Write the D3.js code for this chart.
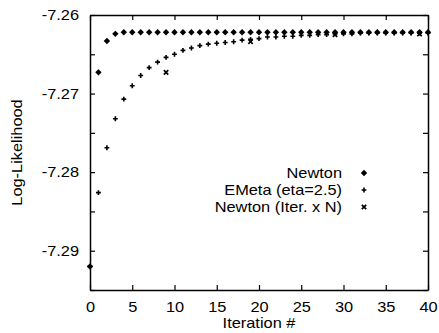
<!DOCTYPE html>
<html>
<head>
<meta charset="utf-8">
<script src="https://cdn.jsdelivr.net/npm/d3@7"></script>
<style>
html,body{margin:0;padding:0;background:#fff;}
svg{display:block;font-family:"Liberation Sans",Arial,Helvetica,sans-serif;}
</style>
</head>
<body>
<svg id="chart" width="439" height="333"></svg>
<script>
// ---- data ----
const iterations = d3.range(0, 41);
const newtonValues = [-7.2920, -7.2673, -7.2633, -7.2624, -7.2622,
  -7.2622, -7.2622, -7.2622, -7.2622, -7.2622, -7.2622, -7.2622, -7.2622, -7.2622, -7.2622,
  -7.2622, -7.2622, -7.2622, -7.2622, -7.2622, -7.2622, -7.2622, -7.2622, -7.2622, -7.2622,
  -7.2622, -7.2622, -7.2622, -7.2622, -7.2622, -7.2622, -7.2622, -7.2622, -7.2622, -7.2622,
  -7.2622, -7.2622, -7.2622, -7.2622, -7.2622, -7.2622];
const emetaValues = [-7.2920, -7.2826, -7.2769, -7.2732, -7.2707, -7.2690, -7.2677, -7.2667,
  -7.2660, -7.2654, -7.2650, -7.2645, -7.2642, -7.2639, -7.2637, -7.2636, -7.2635, -7.2634,
  -7.2632, -7.2631, -7.2630, -7.2628, -7.2628, -7.2627, -7.2627, -7.2626, -7.2626, -7.2625,
  -7.2625, -7.2624, -7.2624, -7.2624, -7.2623, -7.2623, -7.2623, -7.2623, -7.2623, -7.2623,
  -7.2623, -7.2623, -7.2623];
const iterNX = [9, 19, 29, 39];
const iterNValues = [-7.2673, -7.2634, -7.2625, -7.2624];
const seriesNames = ["Newton", "EMeta (eta=2.5)", "Newton (Iter. x N)"];
const xTicks = [0, 5, 10, 15, 20, 25, 30, 35, 40];
const yTicks = [-7.295, -7.29, -7.285, -7.28, -7.275, -7.27, -7.265, -7.26];
const yLabelTicks = [-7.29, -7.28, -7.27, -7.26];
const xTitle = "Iteration #";
const yTitle = "Log-Likelihood";

// ---- layout ----
const svg = d3.select("#chart");
const L = 90, R = 428, T = 15, B = 290;
const x = d3.scaleLinear().domain([0, 40]).range([L, R]);
const y = d3.scaleLinear().domain([-7.295, -7.26]).range([B, T]);
const fs = 14;
const K = 1.17; // horizontal stretch of the lettering in the reference

function stretch(sel) {
  sel.each(function () {
    const t = d3.select(this);
    const x0 = +(t.attr("x") || 0);
    const prev = t.attr("transform") || "";
    t.attr("transform", `${prev} translate(${x0},0) scale(${K},1) translate(${-x0},0)`);
  });
}

function styleAxis(g) {
  g.selectAll("path.domain").attr("stroke", "#000").attr("stroke-width", 1.5);
  g.selectAll(".tick line").attr("stroke", "#000").attr("stroke-width", 1.2);
  g.selectAll("text").attr("font-size", fs).attr("fill", "#000")
    .attr("font-family", "Liberation Sans, Arial, sans-serif").call(stretch);
}
const isLabel = v => yLabelTicks.some(t => Math.abs(t - v) < 1e-9);

svg.append("g").attr("transform", `translate(0,${B})`)
  .call(d3.axisBottom(x).tickValues(xTicks).tickSize(-5).tickSizeOuter(0).tickPadding(12).tickFormat(d3.format("d")))
  .call(styleAxis);
svg.append("g").attr("transform", `translate(0,${T})`)
  .call(d3.axisTop(x).tickValues(xTicks).tickSize(-5).tickSizeOuter(0).tickFormat(""))
  .call(styleAxis);
svg.append("g").attr("transform", `translate(${L},0)`)
  .call(d3.axisLeft(y).tickValues(yTicks).tickSize(-5).tickSizeOuter(0).tickPadding(11)
    .tickFormat(v => isLabel(v) ? d3.format(".2f")(v).replace("−", "-") : ""))
  .call(styleAxis);
svg.append("g").attr("transform", `translate(${R},0)`)
  .call(d3.axisRight(y).tickValues(yTicks).tickSize(-5).tickSizeOuter(0).tickFormat(""))
  .call(styleAxis);

// axis titles
svg.append("text").attr("transform", `translate(${(L + R) / 2},328) scale(${K},1)`)
  .attr("text-anchor", "middle").attr("font-size", fs).text(xTitle);
svg.append("text").attr("transform", `translate(22,${(T + B) / 2}) rotate(-90) scale(${K},1)`)
  .attr("text-anchor", "middle").attr("font-size", fs).text(yTitle);

// markers
const diamondPath = "M0,-3.2L3.2,0L0,3.2L-3.2,0Z";
const plusPath = d3.symbol().type(d3.symbolCross).size(13)();
const xPath = "M-2.2,-2.2L2.2,2.2M-2.2,2.2L2.2,-2.2";

const gPts = svg.append("g");
gPts.selectAll("path.em").data(iterations).join("path").attr("class", "em")
  .attr("transform", i => `translate(${x(i)},${y(emetaValues[i])})`)
  .attr("d", plusPath).attr("fill", "#000");
gPts.selectAll("path.nw").data(iterations).join("path").attr("class", "nw")
  .attr("transform", i => `translate(${x(i)},${y(newtonValues[i])})`)
  .attr("d", diamondPath).attr("fill", "#000");
gPts.selectAll("path.nx").data(iterNX).join("path").attr("class", "nx")
  .attr("transform", (d, i) => `translate(${x(d)},${y(iterNValues[i])})`)
  .attr("d", xPath).attr("stroke", "#000").attr("stroke-width", 1.7).attr("fill", "none");

// legend
const legY = [173, 190, 207];
const leg = svg.append("g");
seriesNames.forEach((name, i) => {
  leg.append("text").attr("transform", `translate(342,${legY[i] + 5}) scale(${K},1)`)
    .attr("text-anchor", "end").attr("font-size", fs).text(name);
  const m = leg.append("path").attr("transform", `translate(364,${legY[i]})`);
  if (i === 0) m.attr("d", diamondPath).attr("fill", "#000");
  else if (i === 1) m.attr("d", plusPath).attr("fill", "#000");
  else m.attr("d", xPath).attr("stroke", "#000").attr("stroke-width", 1.7).attr("fill", "none");
});
</script>
</body>
</html>
